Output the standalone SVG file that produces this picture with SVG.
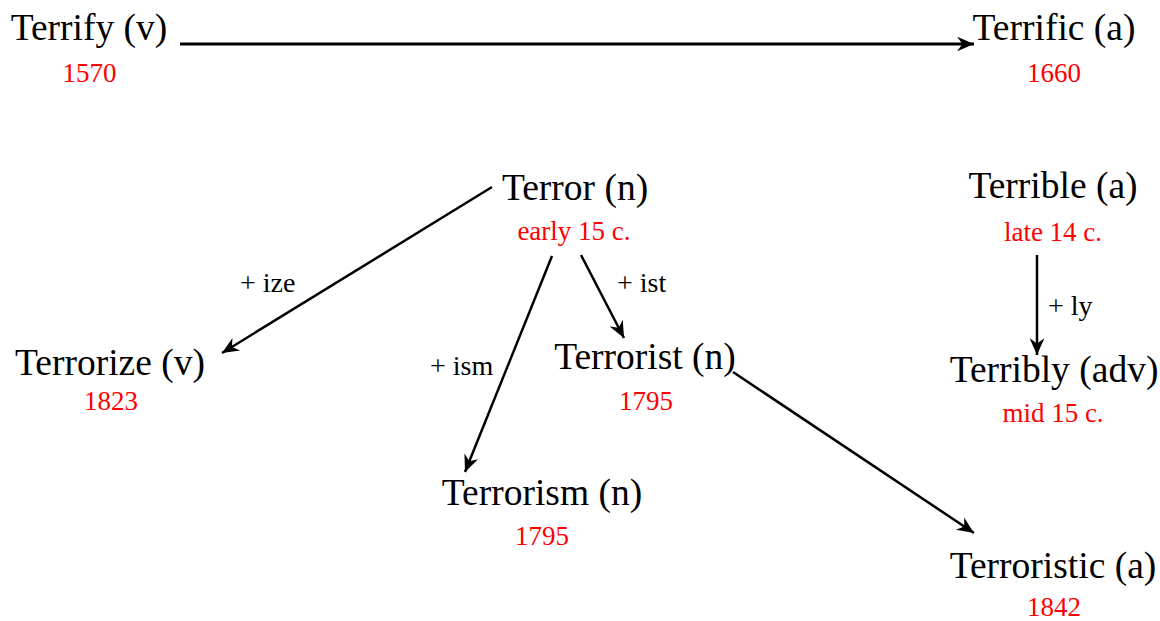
<svg xmlns="http://www.w3.org/2000/svg" width="1160" height="621" viewBox="0 0 1160 621">
<style>
.w{font-family:"Liberation Serif","Times New Roman",serif;font-size:37.5px;fill:#000;text-anchor:middle}
.d{font-family:"Liberation Serif","Times New Roman",serif;font-size:27px;fill:#ff0000;text-anchor:middle}
.l{font-family:"Liberation Serif","Times New Roman",serif;font-size:28px;fill:#000}
.c{stroke:#000;stroke-width:2.5;fill:none;marker-end:url(#ah)}
</style>
<defs>
<marker id="ah" markerUnits="userSpaceOnUse" markerWidth="20" markerHeight="20" viewBox="-17 -8 19 16" refX="0" refY="0" orient="auto">
<path d="M0,0 L-16,-7 L-11,0 L-16,7 Z" fill="#000"/>
</marker>
</defs>
<rect width="1160" height="621" fill="#fff"/>
<g id="connectors">
<line class="c" x1="180" y1="44" x2="974" y2="44" style="stroke-width:3"/>
<line class="c" x1="492" y1="187" x2="222" y2="353"/>
<line class="c" x1="552" y1="256" x2="465" y2="472"/>
<line class="c" x1="581" y1="255" x2="624" y2="338"/>
<line class="c" x1="1037" y1="255" x2="1037" y2="355"/>
<line class="c" x1="733" y1="372" x2="974" y2="533"/>
<text class="l" x="240" y="292">+ ize</text>
<text class="l" x="617" y="292">+ ist</text>
<text class="l" x="430" y="375">+ ism</text>
<text class="l" x="1048" y="315">+ ly</text>
</g>
<g id="terrify"><text class="w" x="89" y="40">Terrify (v)</text><text class="d" x="89.5" y="82">1570</text></g>
<g id="terrific"><text class="w" x="1054" y="40">Terrific (a)</text><text class="d" x="1054" y="82">1660</text></g>
<g id="terror"><text class="w" x="575" y="200">Terror (n)</text><text class="d" x="574" y="240">early 15 c.</text></g>
<g id="terrible"><text class="w" x="1053" y="198">Terrible (a)</text><text class="d" x="1053" y="241">late 14 c.</text></g>
<g id="terribly"><text class="w" x="1054" y="382">Terribly (adv)</text><text class="d" x="1053" y="422">mid 15 c.</text></g>
<g id="terrorize"><text class="w" x="110" y="375">Terrorize (v)</text><text class="d" x="111" y="410">1823</text></g>
<g id="terrorist"><text class="w" x="645" y="369">Terrorist (n)</text><text class="d" x="646" y="410">1795</text></g>
<g id="terrorism"><text class="w" x="542" y="505">Terrorism (n)</text><text class="d" x="542" y="545">1795</text></g>
<g id="terroristic"><text class="w" x="1053" y="578">Terroristic (a)</text><text class="d" x="1054" y="616">1842</text></g>
</svg>
